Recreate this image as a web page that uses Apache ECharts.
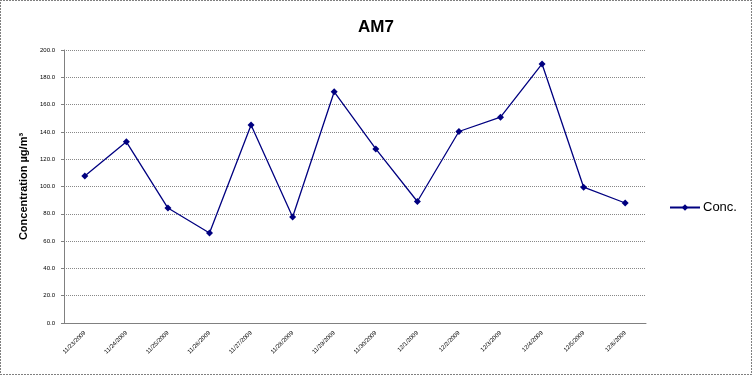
<!DOCTYPE html>
<html><head><meta charset="utf-8">
<script src="https://cdn.jsdelivr.net/npm/echarts@6/dist/echarts.min.js"></script>
<style>html,body{margin:0;padding:0;background:#fff}#c{width:752px;height:375px}</style>
</head><body><div id="c"></div>
<script>
var categories = ['11/23/2009','11/24/2009','11/25/2009','11/26/2009','11/27/2009','11/28/2009','11/29/2009','11/30/2009','12/1/2009','12/2/2009','12/3/2009','12/4/2009','12/5/2009','12/6/2009'];
var conc = [107.7,132.7,84.2,65.9,145.0,77.7,169.4,127.5,89.0,140.3,150.8,189.8,99.5,87.9];
var chart = echarts.init(document.getElementById('c'));
chart.setOption({
  animation:false,
  backgroundColor:'#fff',
  title:{text:'AM7',left:371,top:14,textAlign:'center',textStyle:{fontFamily:'Liberation Sans',fontSize:17,fontWeight:'bold',color:'#000'}},
  graphic:[{type:'rect',shape:{x:0.5,y:0.5,width:751,height:374},style:{fill:null,stroke:'#000',lineWidth:1,lineDash:[1,2]},z:100}],
  legend:{data:['Conc.'],orient:'vertical',left:664,top:196,itemWidth:30,itemHeight:8,itemGap:4,
    textStyle:{fontFamily:'Liberation Sans',fontSize:13,color:'#000',padding:[0,0,0,-2]}},
  grid:{left:64,right:106,top:50,bottom:52},
  xAxis:{type:'category',data:categories,boundaryGap:true,
    axisLine:{lineStyle:{color:'#808080',width:1}},axisTick:{show:false},
    axisLabel:{rotate:45,fontSize:6,fontFamily:'Liberation Sans',color:'#000',interval:0,margin:9},
    splitLine:{show:false}},
  yAxis:{type:'value',min:0,max:200,interval:20,
    name:'Concentration µg/m³',nameLocation:'middle',nameGap:35,nameRotate:90,
    nameTextStyle:{fontFamily:'Liberation Sans',fontSize:11,fontWeight:'bold',color:'#000'},
    axisLine:{show:true,lineStyle:{color:'#808080',width:1}},axisTick:{show:true,length:3,lineStyle:{color:'#808080'}},
    axisLabel:{fontSize:6,fontFamily:'Liberation Sans',color:'#000',margin:9,formatter:function(v){return v.toFixed(1);}},
    splitLine:{lineStyle:{color:'#888',type:[1,1],width:1}}},
  series:[{name:'Conc.',type:'line',data:conc,symbol:'diamond',symbolSize:7,
    lineStyle:{color:'#000080',width:1.3},itemStyle:{color:'#000080'}}]
});
</script></body></html>
